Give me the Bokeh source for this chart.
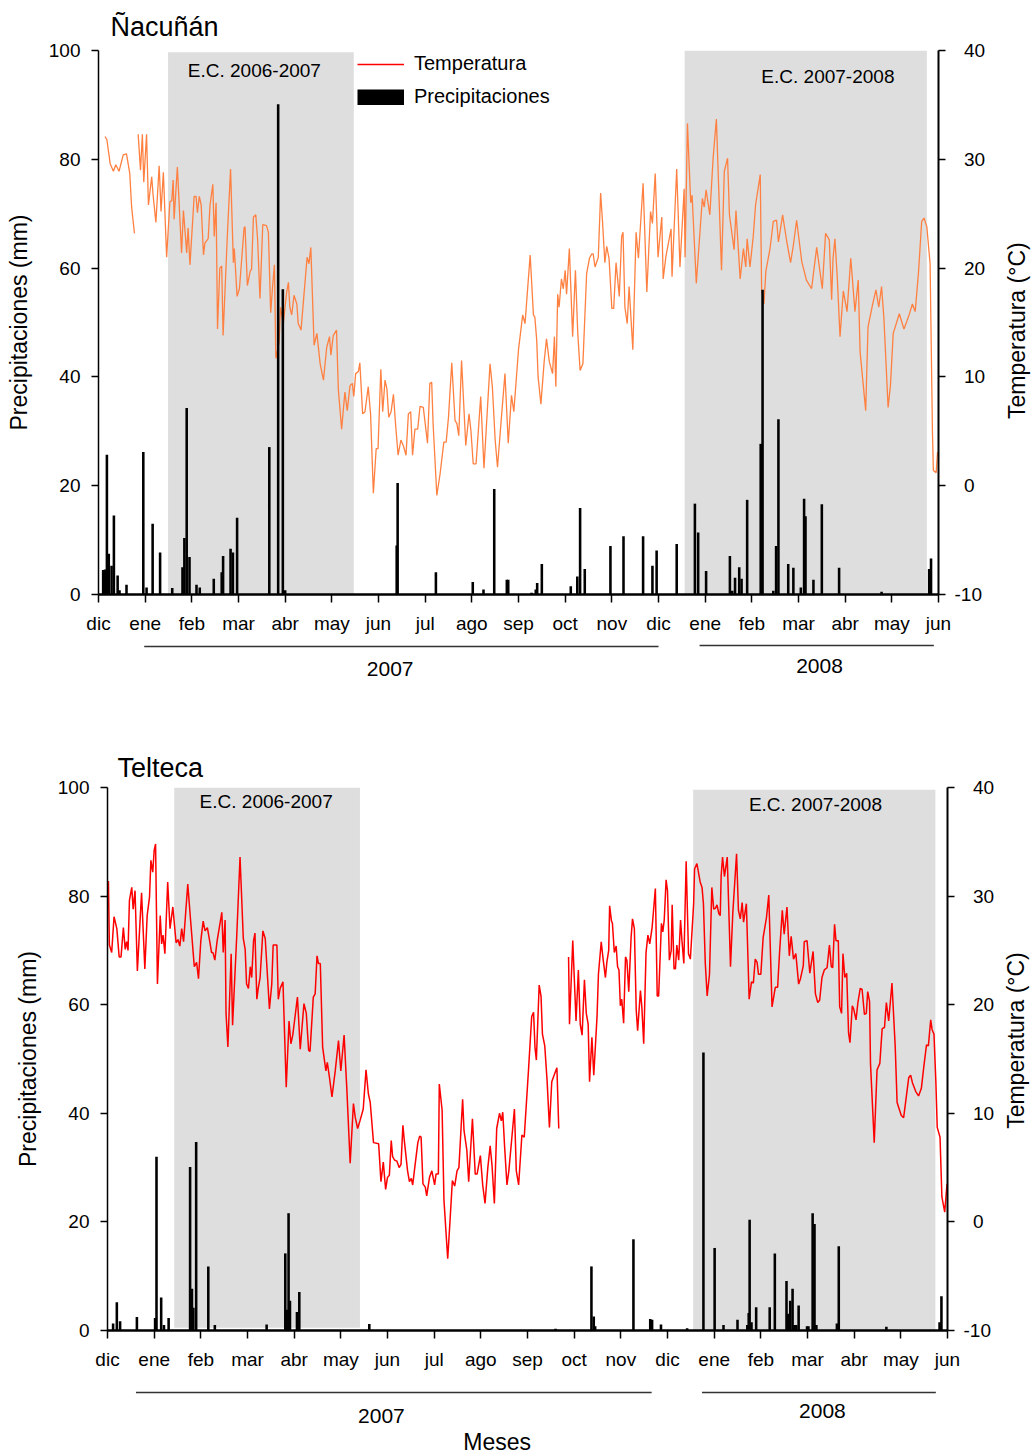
import numpy as np
from bokeh.plotting import figure
from bokeh.models import Range1d, LinearAxis, FixedTicker, Legend, LegendItem
from bokeh.layouts import column, row
from bokeh.core.properties import value
from bokeh.embed import file_html
from bokeh.resources import INLINE

FONT = "Liberation Sans"

# month index: 0 = dic 2006 ... 18 = jun 2008
meses = ["dic", "ene", "feb", "mar", "abr", "may", "jun", "jul", "ago", "sep",
         "oct", "nov", "dic", "ene", "feb", "mar", "abr", "may", "jun"]
ticks_prec = [0, 20, 40, 60, 80, 100]
ticks_temp = [-10, 0, 10, 20, 30, 40]

# ---------------- Ñacuñán ----------------
nac_temp_mes = [0.14, 0.18, 0.25, 0.32, 0.37, 0.44, 0.53, 0.60, 0.67, 0.71, 0.77, 0.80,
    0.85, 0.90, 0.94, 0.97, 1.03, 1.07, 1.14, 1.17, 1.23, 1.30, 1.34, 1.39, 1.46, 1.53, 1.57,
    1.60, 1.62, 1.69, 1.78, 1.82, 1.89, 1.92, 1.96, 2.05, 2.09, 2.12, 2.16, 2.20, 2.25, 2.28,
    2.35, 2.39, 2.45, 2.48, 2.52, 2.55, 2.60, 2.64, 2.67, 2.76, 2.83, 2.89, 2.91, 2.97, 3.02,
    3.12, 3.14, 3.19, 3.25, 3.28, 3.32, 3.37, 3.41, 3.46, 3.52, 3.60, 3.64, 3.69, 3.73, 3.77,
    3.80, 3.87, 3.90, 3.96, 4.03, 4.07, 4.10, 4.14, 4.19, 4.25, 4.28, 4.34, 4.39, 4.47, 4.51,
    4.55, 4.62, 4.68, 4.75, 4.82, 4.89, 4.95, 4.98, 5.03, 5.10, 5.14, 5.21, 5.28, 5.33, 5.39,
    5.44, 5.47, 5.51, 5.57, 5.60, 5.66, 5.71, 5.78, 5.83, 5.89, 5.95, 5.99, 6.05, 6.09, 6.14,
    6.18, 6.22, 6.27, 6.32, 6.37, 6.42, 6.48, 6.53, 6.59, 6.64, 6.69, 6.73, 6.78, 6.84, 6.89,
    6.96, 7.05, 7.10, 7.14, 7.17, 7.25, 7.32, 7.40, 7.45, 7.50, 7.57, 7.64, 7.68, 7.72, 7.78,
    7.87, 7.94, 7.98, 8.03, 8.09, 8.19, 8.26, 8.39, 8.44, 8.50, 8.55, 8.64, 8.71, 8.78, 8.85,
    8.90, 9.00, 9.09, 9.14, 9.25, 9.32, 9.35, 9.39, 9.42, 9.48, 9.55, 9.60, 9.66, 9.73, 9.77,
    9.80, 9.84, 9.87, 9.92, 9.96, 10.00, 10.03, 10.09, 10.16, 10.22, 10.27, 10.32, 10.38,
    10.46, 10.52, 10.57, 10.60, 10.64, 10.71, 10.76, 10.80, 10.85, 10.89, 10.94, 11.00,
    11.04, 11.09, 11.16, 11.21, 11.24, 11.28, 11.33, 11.37, 11.45, 11.52, 11.57, 11.67,
    11.75, 11.83, 11.87, 11.93, 11.99, 12.07, 12.10, 12.16, 12.27, 12.29, 12.39, 12.46,
    12.55, 12.57, 12.62, 12.69, 12.72, 12.81, 12.94, 12.98, 13.02, 13.10, 13.17, 13.24,
    13.35, 13.41, 13.48, 13.52, 13.62, 13.66, 13.75, 13.82, 13.87, 13.90, 13.96, 14.03,
    14.08, 14.18, 14.21, 14.26, 14.30, 14.39, 14.46, 14.53, 14.57, 14.66, 14.75, 14.83,
    14.89, 14.96, 15.07, 15.17, 15.28, 15.39, 15.51, 15.58, 15.66, 15.71, 15.74, 15.78,
    15.83, 15.89, 15.96, 16.04, 16.12, 16.21, 16.28, 16.32, 16.44, 16.49, 16.59, 16.66,
    16.72, 16.78, 16.83, 16.92, 16.97, 17.03, 17.16, 17.26, 17.32, 17.37, 17.44, 17.50,
    17.57, 17.64, 17.69, 17.75, 17.82, 17.87, 17.89, 17.95, 17.98]
nac_temp_c = [32.1, 31.8, 29.6, 28.9, 29.5, 28.9, 30.4, 30.5, 28.7, 25.6, 23.2, None,
    32.3, 29.0, 32.3, 27.9, 32.3, 25.8, 28.4, 26.7, 24.2, 29.4, 25.2, 28.8, 21.0, 26.1, 26.2,
    28.1, 24.5, 29.3, 21.4, 25.3, 21.4, 23.7, 20.3, 26.6, 26.6, 25.1, 26.6, 25.8, 21.2, 22.3,
    22.7, 25.8, 27.7, 22.9, 26.0, 14.4, 20.0, 20.2, 13.8, 22.9, 29.1, 20.5, 21.8, 17.4, 18.1,
    23.7, 23.8, 18.4, 19.7, 19.9, 24.7, 24.9, 22.6, 17.2, 24.0, 23.9, 23.3, 15.9, 18.3, 20.3,
    11.7, 13.2, 16.4, 14.9, 17.7, 18.7, 16.4, 15.7, 17.5, 16.7, 14.9, 14.3, 16.9, 21.0, 20.4,
    21.9, 12.9, 14.0, 11.2, 9.7, 12.7, 13.7, 12.0, 13.8, 14.3, 8.8, 5.2, 8.6, 6.9, 9.2,
    9.4, 8.2, 10.3, 10.5, 11.3, 6.6, 6.8, 9.1, 6.6, -0.7, 3.4, 3.4, 10.7, 6.8, 9.7,
    8.9, 6.3, 6.8, 8.4, 5.4, 2.8, 4.2, 3.7, 2.8, 6.6, 6.8, 2.8, 5.2, 5.2, 7.3,
    7.2, 3.9, 9.4, 9.5, 5.7, -0.9, 1.1, 4.0, 4.0, 6.3, 11.3, 6.0, 5.7, 4.6, 11.5,
    3.7, 6.6, 5.1, 2.0, 2.0, 8.2, 1.6, 11.2, 9.1, 4.2, 1.7, 6.6, 10.3, 3.9, 8.3,
    6.8, 12.5, 15.7, 14.9, 21.2, 15.7, 15.5, 13.4, 10.0, 7.5, 11.4, 13.5, 11.4, 10.3, 13.7,
    9.1, 17.6, 16.4, 19.0, 18.1, 19.8, 17.6, 21.8, 13.7, 19.8, 14.0, 10.6, 11.2,
    19.5, 20.9, 21.3, 21.3, 20.1, 21.0, 26.9, 24.3, 20.5, 22.0, 20.9, 16.3,
    16.3, 20.5, 17.4, 22.9, 23.3, 16.4, 14.9, 18.3, 12.5, 23.3, 20.9, 27.8,
    17.8, 25.2, 24.1, 28.7, 21.0, 24.7, 19.0, 21.1, 23.6, 19.2, 29.1, 20.1,
    27.3, 21.0, 33.3, 26.0, 26.7, 18.6, 26.4, 25.6, 27.2, 24.9, 30.1, 33.7,
    19.8, 28.9, 30.1, 24.9, 21.7, 25.3, 19.0, 21.8, 20.1, 22.7, 20.1, 22.9,
    25.8, 28.6, 18.0, 16.7, 19.7, 21.8, 24.3, 24.4, 22.4, 24.9, 22.4, 20.5,
    22.1, 24.4, 20.6, 18.9, 18.1, 21.9, 18.1, 23.2, 22.6, 17.1, 20.9, 22.7,
    19.2, 13.7, 17.9, 16.0, 20.9, 16.0, 18.9, 12.3, 6.9, 14.6, 16.7, 18.0,
    16.4, 18.3, 15.4, 7.2, 9.2, 14.0, 15.8, 14.4, 15.1, 15.7, 16.7, 16.0,
    19.5, 24.3, 24.6, 23.8, 20.4, 5.0, 1.4, 1.2, 3.1]
nac_prec_mes = [0.10, 0.14, 0.18, 0.22, 0.28, 0.33, 0.41, 0.45, 0.60, 0.96, 1.03, 1.16,
    1.32, 1.58, 1.80, 1.84, 1.89, 1.95, 2.10, 2.17, 2.47, 2.64, 2.67, 2.83, 2.88, 2.97,
    3.66, 3.85, 3.95, 4.00, 6.39, 6.41, 7.23, 8.02, 8.25, 8.48, 8.75, 8.78, 9.28, 9.37,
    9.40, 9.50, 10.12, 10.26, 10.32, 10.42, 10.97, 11.25, 11.67, 11.87, 11.96, 12.39,
    12.78, 12.85, 13.02, 13.53, 13.58, 13.64, 13.73, 13.78, 13.90, 14.19, 14.23, 14.46,
    14.52, 14.57, 14.78, 14.89, 15.05, 15.12, 15.15, 15.32, 15.50, 15.87, 16.78, 17.80, 17.84]
nac_prec_mm = [4.5, 4.6, 25.7, 7.5, 5.3, 14.5, 3.5, 0.8, 1.8, 26.2, 1.3, 13.0,
    7.7, 1.2, 5.0, 10.4, 34.3, 6.9, 1.8, 1.3, 2.9, 4.1, 7.1, 8.4, 7.7, 14.1,
    27.1, 90.1, 56.1, 0.8, 9.0, 20.5, 4.1, 2.3, 0.9, 19.4, 2.7, 2.7, 0.3, 0.9,
    2.1, 5.6, 1.5, 3.3, 15.9, 4.7, 8.9, 10.7, 10.7, 5.3, 8.1, 9.3,
    16.7, 11.4, 4.3, 7.1, 0.7, 3.1, 5.0, 2.9, 17.4, 27.7, 56.0, 0.7,
    8.9, 32.2, 5.6, 4.9, 1.3, 17.6, 14.4, 2.7, 16.6, 4.9, 0.5, 4.7, 6.6]
nac_ec_inicio = [1.49, 12.56]
nac_ec_fin = [5.47, 17.75]
nac_ec_base = [0.0, 0.0]
nac_ec_tope = [99.7, 100.0]
nac_ec_texto = ["E.C. 2006-2007", "E.C. 2007-2008"]

# ---------------- Telteca ----------------
tel_temp_mes = [0.02, 0.04, 0.09, 0.14, 0.20, 0.25, 0.29, 0.34, 0.38, 0.41, 0.44, 0.47,
    0.52, 0.55, 0.59, 0.64, 0.73, 0.80, 0.85, 0.90, 0.93, 0.97, 1.00, 1.03, 1.07, 1.13,
    1.16, 1.19, 1.23, 1.29, 1.34, 1.40, 1.47, 1.51, 1.55, 1.59, 1.63, 1.72, 1.78, 1.86,
    1.91, 1.95, 2.00, 2.05, 2.09, 2.14, 2.20, 2.23, 2.26, 2.30, 2.35, 2.45, 2.48, 2.52,
    2.54, 2.58, 2.65, 2.68, 2.77, 2.84, 2.91, 2.95, 2.98, 3.02, 3.06, 3.09, 3.13, 3.16,
    3.20, 3.23, 3.27, 3.33, 3.38, 3.47, 3.52, 3.55, 3.63, 3.66, 3.70, 3.76, 3.83, 3.89,
    3.93, 3.97, 4.07, 4.13, 4.21, 4.26, 4.31, 4.34, 4.41, 4.45, 4.49, 4.52, 4.56, 4.61,
    4.68, 4.71, 4.76, 4.81, 4.88, 4.95, 5.00, 5.07, 5.13, 5.20, 5.27, 5.31, 5.36, 5.41,
    5.48, 5.54, 5.59, 5.63, 5.70, 5.81, 5.86, 5.91, 5.96, 6.00, 6.04, 6.08, 6.11, 6.15,
    6.20, 6.25, 6.29, 6.33, 6.36, 6.43, 6.47, 6.51, 6.54, 6.59, 6.65, 6.69, 6.72, 6.76,
    6.81, 6.84, 6.90, 6.95, 7.01, 7.04, 7.09, 7.11, 7.17, 7.21, 7.29, 7.34, 7.39, 7.44,
    7.49, 7.53, 7.61, 7.64, 7.70, 7.74, 7.82, 7.88, 7.92, 7.99, 8.04, 8.09, 8.15, 8.20,
    8.24, 8.29, 8.34, 8.40, 8.44, 8.47, 8.51, 8.56, 8.60, 8.67, 8.72, 8.76, 8.81, 8.88,
    8.93, 9.02, 9.09, 9.13, 9.16, 9.19, 9.25, 9.29, 9.32, 9.37, 9.42, 9.47, 9.52, 9.57,
    9.63, 9.67, 9.72, 9.88, 9.90, 9.97, 10.04, 10.09, 10.13, 10.17, 10.22, 10.26, 10.30,
    10.33, 10.38, 10.42, 10.49, 10.52, 10.58, 10.62, 10.67, 10.70, 10.74, 10.76, 10.80,
    10.82, 10.86, 10.90, 10.93, 10.96, 10.99, 11.02, 11.06, 11.10, 11.13, 11.17, 11.22,
    11.25, 11.29, 11.33, 11.36, 11.42, 11.45, 11.49, 11.54, 11.58, 11.62, 11.67, 11.74,
    11.78, 11.81, 11.87, 11.90, 11.93, 11.97, 12.00, 12.04, 12.08, 12.10, 12.14, 12.17,
    12.20, 12.24, 12.28, 12.31, 12.35, 12.40, 12.45, 12.49, 12.53, 12.56, 12.58, 12.63,
    12.70, 12.74, 12.77, 12.81, 12.85, 12.90, 12.95, 12.99, 13.03, 13.06, 13.10, 13.13,
    13.15, 13.18, 13.22, 13.28, 13.35, 13.40, 13.48, 13.52, 13.56, 13.60, 13.63, 13.69,
    13.75, 13.80, 13.84, 13.88, 13.92, 13.95, 14.00, 14.05, 14.12, 14.17, 14.24, 14.31,
    14.36, 14.40, 14.46, 14.50, 14.56, 14.61, 14.65, 14.70, 14.75, 14.81, 14.85, 14.91,
    14.93, 14.99, 15.05, 15.12, 15.17, 15.22, 15.26, 15.31, 15.36, 15.42, 15.47, 15.51,
    15.54, 15.58, 15.61, 15.66, 15.69, 15.73, 15.76, 15.80, 15.84, 15.88, 15.91, 15.96,
    15.99, 16.04, 16.08, 16.13, 16.17, 16.22, 16.26, 16.29, 16.33, 16.35, 16.43, 16.49,
    16.55, 16.60, 16.65, 16.69, 16.74, 16.81, 16.88, 16.92, 17.01, 17.06, 17.17, 17.21,
    17.25, 17.32, 17.38, 17.44, 17.49, 17.55, 17.59, 17.64, 17.67, 17.71, 17.75, 17.78,
    17.84, 17.88, 17.94, 17.99]
tel_temp_c = [31.4, 25.5, 24.8, 28.1, 27.0, 24.4, 24.4, 27.1, 25.1, 25.8, 25.0, 29.6,
    30.8, 28.8, 30.5, 23.1, 30.3, 23.3, 28.2, 29.9, 33.3, 32.2, 34.2, 34.8, 21.9, 28.2,
    25.6, 26.4, 24.7, 31.3, 27.0, 29.0, 25.7, 26.0, 25.4, 27.0, 25.8, 31.1, 27.8, 23.5,
    23.9, 22.4, 25.9, 27.7, 26.8, 27.1, 25.6, 24.8, 24.8, 24.1, 25.9, 28.5, 24.8, 27.8,
    19.2, 16.1, 24.7, 18.1, 26.4, 33.6, 26.1, 25.1, 21.9, 21.5, 23.5, 22.5, 25.9, 26.6,
    20.5, 21.5, 22.5, 26.8, 26.1, 19.6, 21.9, 25.5, 25.5, 20.5, 21.5, 22.1, 12.4, 18.5,
    16.4, 17.2, 20.7, 15.9, 20.1, 19.2, 15.8, 15.7, 20.7, 21.0, 24.5, 23.8, 23.8, 16.1,
    13.9, 14.7, 13.2, 11.5, 13.9, 16.7, 13.9, 17.2, 12.1, 5.4, 10.9, 9.6, 8.6, 9.3,
    10.4, 14.0, 11.8, 11.0, 7.3, 7.2, 3.7, 5.5, 3.0, 4.1, 4.3, 7.5, 6.0, 5.7,
    5.6, 5.0, 5.3, 8.9, 7.5, 4.7, 3.7, 4.0, 3.4, 5.2, 7.3, 7.9, 7.8, 3.5,
    3.2, 2.4, 4.1, 4.7, 3.4, 4.4, 4.4, 12.7, 10.3, 2.0, -3.4, 0.1, 3.8, 3.3,
    4.7, 5.0, 11.3, 8.4, 6.6, 3.7, 9.5, 4.4, 4.4, 6.1, 3.4, 1.7, 5.0, 7.0,
    5.2, 1.7, 8.6, 10.0, 9.3, 10.1, 6.9, 3.4, 4.7, 8.0, 10.4, 4.7, 3.4, 8.0,
    7.8, 13.9, 18.9, 19.3, 16.1, 14.9, 21.8, 20.8, 17.3, 16.2, 13.0, 8.7, 12.9, 13.5,
    14.2, 8.6, None, 24.4, 18.2, 25.9, 18.5, 23.2, 18.2, 17.2, 22.3, 19.2, 18.2,
    12.9, 17.0, 13.5, 18.9, 22.8, 25.8, 24.2, 22.5, 23.9, 25.0, 29.1, 27.7,
    27.5, 24.8, 25.4, 23.5, 23.2, 19.9, 20.5, 18.3, 24.4, 24.1, 21.2, 26.2,
    27.9, 27.0, 19.5, 17.6, 21.3, 19.8, 16.4, 24.8, 26.4, 25.6, 27.1, 30.7,
    20.8, 20.8, 27.5, 26.7, 27.8, 31.5, 30.5, 24.1, 25.0, 29.2, 23.3, 23.3,
    25.5, 24.1, 27.8, 25.9, 23.8, 33.2, 24.7, 24.2, 27.1, 29.3, 32.5, 33.0,
    31.3, 30.8, 29.3, 23.8, 20.8, 22.8, 30.8, 28.8, 28.9, 29.2, 28.4, 28.2,
    31.9, 33.6, 31.8, 33.6, 23.5, 28.5, 33.9, 28.7, 27.9, 29.4, 27.6, 29.3,
    20.5, 22.1, 22.0, 24.2, 23.9, 22.8, 22.8, 26.2, 28.0, 30.1, 19.8, 21.6,
    21.6, 24.7, 28.7, 26.5, 29.0, 24.5, 26.3, 24.2, 24.7, 21.9, 22.4, 23.6,
    25.8, 25.9, 22.9, 24.9, 21.0, 20.2, 20.4, 22.5, 23.2, 23.4, 25.5, 23.5,
    23.4, 27.4, 25.9, 25.9, 19.8, 19.2, 24.7, 22.5, 22.9, 17.4, 16.5, 19.9,
    19.6, 18.6, 20.2, 21.5, 21.4, 19.1, 19.2, 21.2, 20.3, 14.6, 7.3, 14.0,
    14.6, 17.8, 17.9, 20.2, 18.5, 22.0, 16.1, 11.0, 9.8, 9.6, 13.3, 13.5,
    12.8, 12.0, 11.6, 12.3, 14.2, 16.3, 16.2, 18.6, 17.7, 17.3, 13.0, 8.7,
    7.8, 2.3, 0.9, 3.5]
tel_prec_mes = [0.12, 0.20, 0.27, 0.63, 1.02, 1.05, 1.15, 1.21, 1.31, 1.77, 1.81, 1.84,
    1.90, 2.16, 2.30, 3.41, 3.81, 3.84, 3.88, 3.91, 4.06, 4.11, 5.61, 9.60, 10.37,
    10.42, 10.45, 11.27, 11.63, 11.67, 11.86, 12.42, 12.77, 13.01, 13.20, 13.50, 13.71,
    13.74, 13.76, 13.80, 13.90, 14.19, 14.30, 14.55, 14.58, 14.63, 14.68, 14.72, 14.76,
    14.81, 14.99, 15.02, 15.11, 15.15, 15.19, 15.63, 15.67, 16.69, 17.83, 17.87]
tel_prec_mm = [1.3, 5.2, 1.7, 2.5, 2.3, 32.0, 6.1, 1.0, 2.3, 30.1, 7.7, 4.2,
    34.7, 11.8, 1.0, 1.1, 14.2, 3.8, 21.6, 5.5, 3.4, 7.1, 1.2, 0.3, 11.8,
    2.6, 0.8, 16.8, 2.1, 2.0, 1.1, 0.4, 51.2, 15.2, 1.0, 2.0, 1.0,
    3.2, 20.4, 1.5, 4.3, 4.3, 14.2, 9.1, 3.1, 5.5, 7.7, 1.0, 1.0,
    4.6, 0.8, 0.8, 21.6, 19.6, 1.0, 1.3, 15.5, 0.7, 1.5, 6.3]
tel_ec_inicio = [1.43, 12.55]
tel_ec_fin = [5.41, 17.74]
tel_ec_base = [0.5, 0.0]
tel_ec_tope = [100.0, 99.6]
tel_ec_texto = ["E.C. 2006-2007", "E.C. 2007-2008"]


def style_axis(ax, ticks):
    ax.ticker = FixedTicker(ticks=ticks)
    ax.major_label_text_font = FONT
    ax.major_label_text_font_size = "19px"
    ax.major_label_text_color = "black"
    ax.axis_line_color = "black"
    ax.axis_line_width = 1.5
    ax.major_tick_line_color = "black"
    ax.major_tick_line_width = 1.5
    ax.major_tick_in = 0
    ax.major_tick_out = 7
    ax.minor_tick_line_color = None
    ax.major_label_standoff = 9
    ax.axis_label_text_font = FONT
    ax.axis_label_text_font_size = "23px"
    ax.axis_label_text_font_style = "normal"
    ax.axis_label_text_color = "black"


def make_panel(c):
    p = figure(width=c["w"], height=c["h"], x_range=Range1d(0, 18), y_range=Range1d(0, 100),
               x_axis_location=None, y_axis_location=None, toolbar_location=None,
               output_backend="svg", min_border_left=c["left"], min_border_right=c["right"],
               min_border_top=c["top"], min_border_bottom=c["bottom"], title=c["title"])
    p.outline_line_color = None
    p.grid.visible = False
    p.title.align = "left"
    p.title.offset = c["title_off"]
    p.title.text_font = FONT
    p.title.text_font_size = "27px"
    p.title.text_font_style = "normal"
    p.title.text_color = "black"
    p.title.standoff = c["title_standoff"]
    p.extra_y_ranges = {"temp": Range1d(-10, 40)}

    xa = LinearAxis()
    style_axis(xa, list(range(19)))
    xa.major_label_overrides = {i: m for i, m in enumerate(meses)}
    xa.major_tick_out = 8
    xa.major_label_standoff = 10
    xa.axis_line_width = 2.5
    p.add_layout(xa, "below")

    ya = LinearAxis()
    style_axis(ya, ticks_prec)
    ya.major_label_standoff = 11
    ya.axis_label = "Precipitaciones (mm)"
    ya.axis_label_standoff = c["yl_std"]
    p.add_layout(ya, "left")

    ra = LinearAxis(y_range_name="temp")
    style_axis(ra, ticks_temp)
    ra.axis_line_width = 2
    # non-negative values sit one en-space further right, as in the original
    ra.major_label_overrides = {t: (str(t) if t < 0 else "\u2002" + str(t)) for t in ticks_temp}
    p.add_layout(ra, "right")

    p.quad(left=c["ec_x0"], right=c["ec_x1"], bottom=c["ec_b"], top=c["ec_t"],
           fill_color="#dedede", line_color=None)
    p.text(x=c["ec_lx"], y=c["ec_ly"], text=c["ec_txt"], text_font=value(FONT),
           text_font_size="19px", text_align="center", text_baseline="middle",
           text_color="black")
    p.line(np.array(c["tx"], dtype=float), np.array(c["ty"], dtype=float),
           y_range_name="temp", line_color=c["color"], line_width=c["lw"])
    p.vbar(x=c["px"], top=c["py"], bottom=0, width=0.055, fill_color="black",
           line_color=None)

    if c["legend"]:
        nan = np.array([np.nan])
        r1 = p.line(x=nan, y=nan, line_color="red", line_width=1.5)
        r2 = p.line(x=nan, y=nan, line_color="black", line_width=16)
        leg = Legend(items=[LegendItem(label="Temperatura", renderers=[r1]),
                            LegendItem(label="Precipitaciones", renderers=[r2])],
                     location=(259, 486), orientation="vertical")
        leg.border_line_color = None
        leg.background_fill_alpha = 0
        leg.padding = 0
        leg.margin = 0
        leg.spacing = 10
        leg.glyph_width = 47
        leg.glyph_height = 16
        leg.label_height = 22
        leg.label_standoff = 10
        leg.label_text_font = FONT
        leg.label_text_font_size = "20px"
        leg.label_text_color = "black"
        p.add_layout(leg)

    # narrow strip to the right carrying the temperature axis title (reads bottom-to-top)
    s = figure(width=1035 - c["w"], height=c["h"], x_range=Range1d(0, 1),
               y_range=Range1d(0, 100), x_axis_location=None, y_axis_location=None,
               toolbar_location=None, output_backend="svg", min_border_left=0,
               min_border_right=0, min_border_top=c["top"], min_border_bottom=c["bottom"])
    s.outline_line_color = None
    s.grid.visible = False
    s.text(x=[c["rl_x"]], y=[c["rl_y"]], text=["Temperatura (°C)"], angle=np.pi / 2,
           text_font=value(FONT), text_font_size="23px", text_align="center",
           text_baseline="middle", text_color="black")
    return row(p, s, spacing=0)


def make_years(h, left, right, seg, txt):
    q = figure(width=1035, height=h, x_range=Range1d(0, 18), y_range=Range1d(0, 1),
               x_axis_location=None, y_axis_location=None, toolbar_location=None,
               output_backend="svg", min_border_left=left, min_border_right=right,
               min_border_top=0, min_border_bottom=0)
    q.outline_line_color = None
    q.grid.visible = False
    q.segment(x0=seg["x0"], x1=seg["x1"], y0=seg["y"], y1=seg["y"],
              line_color="#333333", line_width=1.5)
    for t, x, y, sz in txt:
        q.text(x=[x], y=[y], text=[t], text_font=value(FONT), text_font_size=sz,
               text_align="center", text_baseline="middle", text_color="black")
    return q


p1 = make_panel(dict(
    w=993, h=640, left=98, right=55, top=50, bottom=46,
    ec_x0=nac_ec_inicio, ec_x1=nac_ec_fin, ec_b=nac_ec_base, ec_t=nac_ec_tope,
    ec_lx=[3.34, 15.63], ec_ly=[96.4, 95.2], ec_txt=nac_ec_texto,
    tx=nac_temp_mes, ty=nac_temp_c, px=nac_prec_mes, py=nac_prec_mm,
    color="#ff8040", lw=1.3,
    title="Ñacuñán", title_off=12, title_standoff=17,
    yl_std=14, rl_x=0.571, rl_y=48.5, legend=True))

y1 = make_years(60, 98, 97,
                dict(x0=[0.98, 12.88], x1=[12.0, 17.9], y=[0.9, 0.917]),
                [("2007", 6.25, 0.517, "21px"), ("2008", 15.45, 0.583, "21px")])

p2 = make_panel(dict(
    w=1002, h=675, left=107, right=55, top=87, bottom=45,
    ec_x0=tel_ec_inicio, ec_x1=tel_ec_fin, ec_b=tel_ec_base, ec_t=tel_ec_tope,
    ec_lx=[3.40, 15.17], ec_ly=[97.4, 96.9], ec_txt=tel_ec_texto,
    tx=tel_temp_mes, ty=tel_temp_c, px=tel_prec_mes, py=tel_prec_mm,
    color="#ff0000", lw=1.5,
    title="Telteca", title_off=10, title_standoff=10,
    yl_std=14, rl_x=0.42, rl_y=53.4, legend=False))

y2 = make_years(81, 107, 88,
                dict(x0=[0.61, 12.74], x1=[11.66, 17.75], y=[0.79, 0.79]),
                [("2007", 5.87, 0.506, "21px"), ("2008", 15.32, 0.556, "21px"),
                 ("Meses", 8.35, 0.173, "23px")])

layout = column(column(p1, y1, spacing=0), column(p2, y2, spacing=0), spacing=0)
open("out.html", "w").write(file_html(layout, INLINE))
